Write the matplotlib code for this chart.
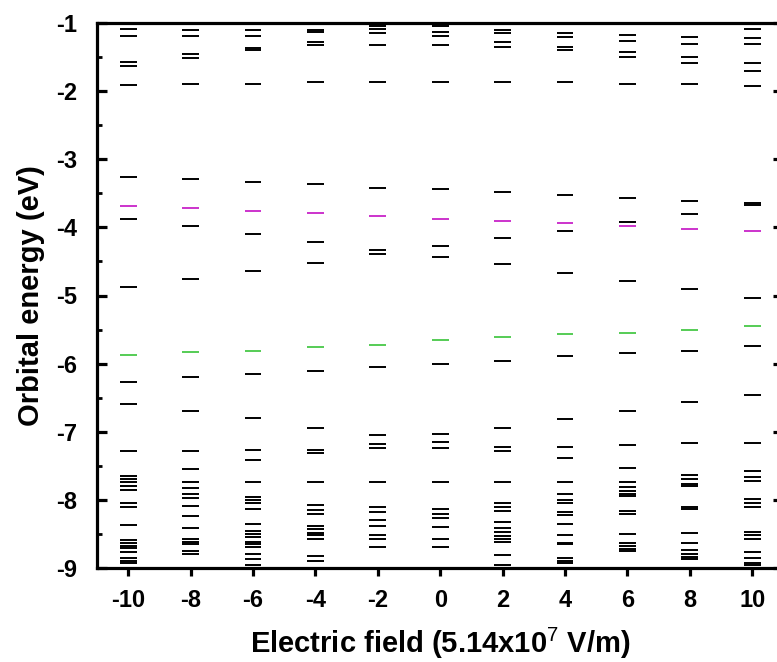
"""Orbital energy levels vs applied electric field."""

import matplotlib

matplotlib.use("Agg")
import matplotlib.pyplot as plt
from matplotlib.ticker import MultipleLocator

plt.rcParams["font.family"] = ["Liberation Sans", "DejaVu Sans"]
plt.rcParams["mathtext.fontset"] = "custom"
plt.rcParams["mathtext.rm"] = "Liberation Sans"
plt.rcParams["mathtext.bf"] = "Liberation Sans:bold"
plt.rcParams["axes.unicode_minus"] = False

# field strength (units of 5.14e7 V/m)
FIELDS = [-10, -8, -6, -4, -2, 0, 2, 4, 6, 8, 10]

# highlighted frontier levels (eV)
LUMO = [-3.68, -3.72, -3.765, -3.785, -3.83, -3.87, -3.90, -3.94, -3.975, -4.025, -4.05]
HOMO = [-5.87, -5.83, -5.81, -5.76, -5.72, -5.655, -5.61, -5.565, -5.545, -5.50, -5.455]

# remaining levels per field (eV)
LEVELS_M10 = [-1.09, -1.19, -1.57, -1.63, -1.915, -3.26, -3.88, -4.88, -6.27, -6.595,
              -7.285, -7.65, -7.70, -7.735, -7.80, -7.85, -8.05, -8.11, -8.37, -8.59,
              -8.63, -8.67, -8.71, -8.77, -8.86, -8.89, -8.93]
LEVELS_M8 = [-1.11, -1.19, -1.46, -1.52, -1.895, -3.29, -3.98, -4.76, -6.20, -6.70,
             -7.285, -7.55, -7.74, -7.83, -7.92, -7.97, -8.09, -8.24, -8.415, -8.57,
             -8.62, -8.65, -8.75, -8.80]
LEVELS_M6 = [-1.11, -1.19, -1.37, -1.40, -1.895, -3.33, -4.09, -4.64, -6.155, -6.80,
             -7.265, -7.42, -7.74, -7.965, -8.005, -8.05, -8.13, -8.35, -8.46, -8.50,
             -8.54, -8.62, -8.65, -8.69, -8.79, -8.87, -8.96]
LEVELS_M4 = [-1.10, -1.13, -1.28, -1.32, -1.87, -3.37, -4.22, -4.52, -6.115, -6.94,
             -7.27, -7.31, -7.74, -8.07, -8.15, -8.21, -8.39, -8.43, -8.48, -8.52,
             -8.58, -8.83, -8.90]
LEVELS_M2 = [-1.02, -1.05, -1.09, -1.15, -1.32, -1.87, -3.42, -4.33, -4.39, -6.045,
             -7.045, -7.18, -7.245, -7.74, -8.11, -8.175, -8.30, -8.39, -8.52, -8.57,
             -8.69]
LEVELS_0 = [-1.02, -1.05, -1.13, -1.19, -1.32, -1.87, -3.44, -4.28, -4.44, -6.01,
            -7.04, -7.15, -7.24, -7.74, -8.14, -8.21, -8.27, -8.40, -8.57, -8.69]
LEVELS_P2 = [-1.11, -1.14, -1.28, -1.35, -1.87, -3.48, -4.16, -4.54, -5.96, -6.94,
             -7.23, -7.285, -7.74, -8.05, -8.10, -8.16, -8.33, -8.41, -8.47, -8.53,
             -8.58, -8.62, -8.81, -8.96]
LEVELS_P4 = [-1.15, -1.20, -1.35, -1.40, -1.87, -3.53, -4.05, -4.675, -5.89, -6.81,
             -7.22, -7.39, -7.74, -7.92, -8.005, -8.04, -8.175, -8.22, -8.35, -8.52,
             -8.63, -8.655, -8.86, -8.90, -8.93]
LEVELS_P6 = [-1.18, -1.26, -1.42, -1.50, -1.895, -3.575, -3.92, -4.78, -5.85, -6.70,
             -7.20, -7.525, -7.74, -7.81, -7.87, -7.91, -7.945, -8.16, -8.21, -8.50,
             -8.64, -8.68, -8.715, -8.75]
LEVELS_P8 = [-1.20, -1.31, -1.50, -1.59, -1.895, -3.61, -3.805, -4.90, -5.81, -6.57,
             -7.17, -7.64, -7.69, -7.76, -7.80, -8.10, -8.14, -8.48, -8.64, -8.73,
             -8.79, -8.84, -8.87]
LEVELS_P10 = [-1.09, -1.225, -1.31, -1.59, -1.70, -1.92, -3.645, -3.67, -5.03, -5.745,
              -6.46, -7.16, -7.57, -7.66, -7.72, -7.98, -8.04, -8.11, -8.47, -8.52,
              -8.57, -8.76, -8.85, -8.92, -8.96]

LEVELS = [LEVELS_M10, LEVELS_M8, LEVELS_M6, LEVELS_M4, LEVELS_M2, LEVELS_0,
          LEVELS_P2, LEVELS_P4, LEVELS_P6, LEVELS_P8, LEVELS_P10]

HALF = 0.27  # half length of a level dash

fig = plt.figure(figsize=(7.77, 6.62), dpi=100)
ax = fig.add_axes([97 / 777, 94 / 662, 686.4 / 777, 545 / 662])

for f, lv in zip(FIELDS, LEVELS):
    ax.hlines(lv, f - HALF, f + HALF, colors="black", linewidth=1.4)
ax.hlines(LUMO, [f - HALF for f in FIELDS], [f + HALF for f in FIELDS],
          colors="#cc33cc", linewidth=1.4)
ax.hlines(HOMO, [f - HALF for f in FIELDS], [f + HALF for f in FIELDS],
          colors="#55cc55", linewidth=1.4)

ax.set_xlim(-11, 11)
ax.set_ylim(-9, -1)
ax.set_xticks(FIELDS)
ax.set_xticklabels([str(f) for f in FIELDS])
ax.yaxis.set_major_locator(MultipleLocator(1))
ax.yaxis.set_minor_locator(MultipleLocator(0.5))

for s in ax.spines.values():
    s.set_linewidth(2.3)

ax.tick_params(axis="x", which="major", direction="out", length=6, width=2.3,
               labelsize=17, pad=9, top=False)
ax.tick_params(axis="y", which="major", direction="in", length=7, width=2.3,
               labelsize=17, pad=14, right=True)
ax.tick_params(axis="y", which="minor", direction="in", length=3.6, width=2,
               right=True)
for lab in ax.get_xticklabels() + ax.get_yticklabels():
    lab.set_fontweight("bold")

ax.set_xlabel(r"Electric field (5.14x10$^{7}$ V/m)", fontsize=21,
              fontweight="bold", labelpad=10)
ax.set_ylabel("Orbital energy (eV)", fontsize=21, fontweight="bold", labelpad=8)

fig.savefig("out.png", dpi=100)
